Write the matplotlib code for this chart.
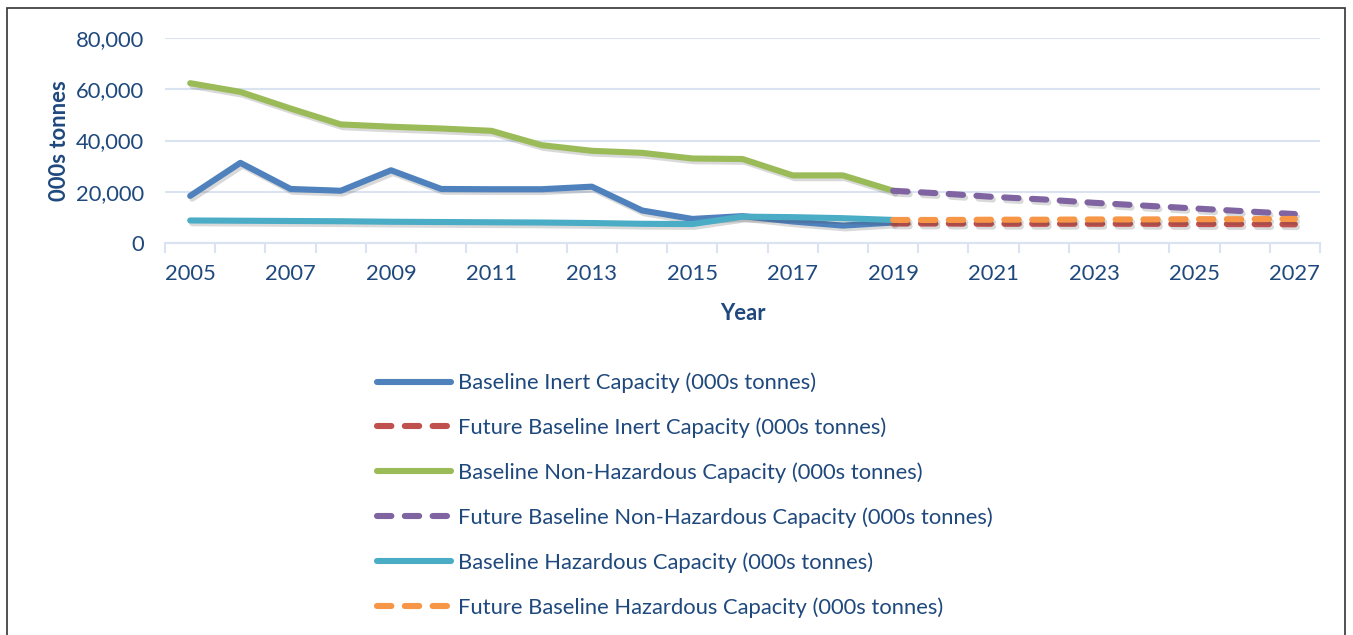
# landfill capacity chart, baseline + future
import numpy as np
import matplotlib
matplotlib.use("Agg")
import matplotlib.pyplot as plt
import matplotlib.patheffects as pe
from matplotlib.patches import Rectangle

plt.rcParams['font.family'] = ['Lato', 'DejaVu Sans']

years = list(range(2005, 2028))
base_years = years[:15]          # 2005..2019
future_years = years[14:]        # 2019..2027

inert = [18400, 31300, 21100, 20400, 28400, 21100, 21000, 21000, 22000,
         12700, 9400, 10500, 8400, 6800, 8000]
non_haz = [62400, 59000, 52500, 46300, 45400, 44700, 43800, 38200, 36000,
           35200, 33000, 32800, 26400, 26400, 20400]
haz = [8800, 8700, 8600, 8500, 8300, 8200, 8100, 8000, 7800,
       7500, 7400, 10300, 10100, 9700, 9000]
future_inert = [7600, 7600, 7500, 7500, 7500, 7500, 7400, 7400, 7300]
future_non_haz = [20400, 19300, 18000, 17000, 15700, 14600, 13500, 12400, 11300]
future_haz = [9000, 9000, 9100, 9100, 9200, 9200, 9300, 9300, 9400]

labels = ['Baseline Inert Capacity (000s tonnes)',
          'Future Baseline Inert Capacity (000s tonnes)',
          'Baseline Non-Hazardous Capacity (000s tonnes)',
          'Future Baseline Non-Hazardous Capacity (000s tonnes)',
          'Baseline Hazardous Capacity (000s tonnes)',
          'Future Baseline Hazardous Capacity (000s tonnes)']

txt = '#1F497D'
grid_c = '#D9E3F1'
fs = 15.8

fig = plt.figure(figsize=(13.53, 6.35), dpi=100)
ax = fig.add_axes([0.122, 0.6173, 0.8536, 0.3227])

# category axis: index positions
idx = {y: i for i, y in enumerate(years)}
xb = [idx[y] for y in base_years]
xf = [idx[y] for y in future_years]

shadow = [pe.SimpleLineShadow(offset=(1.5, -2), alpha=0.2, shadow_color='#444444'), pe.Normal()]
lw = 4.4
dash = (2.35, 2.2)

series = [
    (xb, inert, '#4F81BD', False),
    (xf, future_inert, '#C0504D', True),
    (xb, non_haz, '#9BBB59', False),
    (xf, future_non_haz, '#8064A2', True),
    (xb, haz, '#4BACC6', False),
    (xf, future_haz, '#F79646', True),
]
for (xs, ys, c, dashed), lab in zip(series, labels):
    line, = ax.plot(xs, ys, color=c, lw=lw, label=lab,
                    solid_capstyle='round', dash_capstyle='round',
                    solid_joinstyle='round', path_effects=shadow)
    if dashed:
        line.set_dashes(dash)

ax.set_xlim(-0.5, len(years) - 0.5)
ax.set_ylim(0, 80000)
ax.set_yticks([0, 20000, 40000, 60000, 80000])
ax.set_yticklabels(['0', '20,000', '40,000', '60,000', '80,000'])
ax.set_xticks(range(0, len(years), 2))
ax.set_xticklabels([str(y) for y in years[::2]])
ax.set_xticks(np.arange(-0.5, len(years), 1), minor=True)
ax.tick_params(axis='x', which='major', length=0, pad=15, labelsize=fs, labelcolor=txt)
ax.tick_params(axis='x', which='minor', length=7, color=grid_c, width=1.5)
ax.tick_params(axis='y', length=0, pad=15, labelsize=fs, labelcolor=txt)
ax.grid(axis='y', color=grid_c, lw=1.5)
ax.set_axisbelow(True)
for s in ['top', 'right', 'left']:
    ax.spines[s].set_visible(False)
ax.spines['bottom'].set_color(grid_c)
ax.spines['bottom'].set_linewidth(1.5)

ax.set_ylabel('000s tonnes', fontsize=fs, fontweight='bold', color=txt, labelpad=4)
ax.set_xlabel('Year', fontsize=fs, fontweight='bold', color=txt, labelpad=14)

leg = fig.legend(loc='upper left', bbox_to_anchor=(0.272, 0.427), frameon=False,
                 fontsize=fs, handlelength=3.4, handletextpad=0.3,
                 labelspacing=1.11, borderaxespad=0)
for t in leg.get_texts():
    t.set_color(txt)
for h in leg.get_lines():
    h.set_linewidth(lw)
    h.set_path_effects([])

fig.patches.append(Rectangle((7 / 1353, -0.05), (1345 - 7) / 1353, 1 - 8 / 635 + 0.05,
                             transform=fig.transFigure, fill=False,
                             edgecolor='#333333', lw=1.2))

fig.savefig('out.png', dpi=100)
